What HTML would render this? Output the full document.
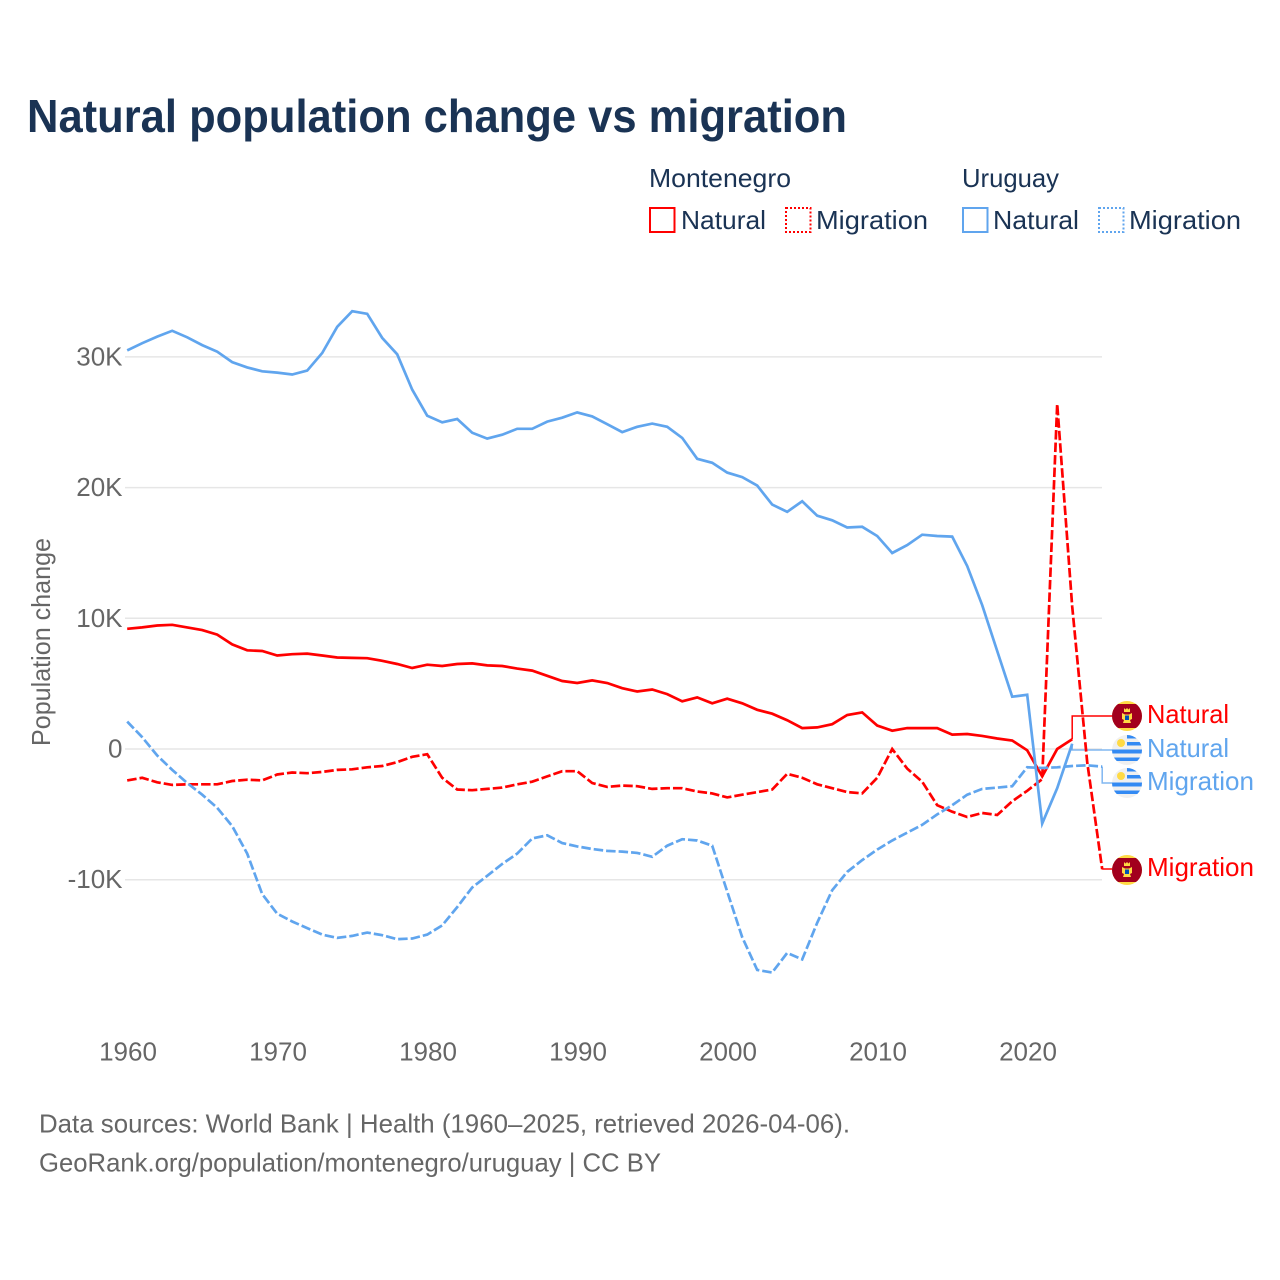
<!DOCTYPE html>
<html lang="en">
<head>
<meta charset="utf-8">
<title>Natural population change vs migration</title>
<style>
html,body{margin:0;padding:0;background:#fff;width:1280px;height:1280px;overflow:hidden}
svg{display:block}
text{font-family:"Liberation Sans",sans-serif}
</style>
</head>
<body>
<svg id="chart" xmlns="http://www.w3.org/2000/svg" width="1280" height="1280" viewBox="0 0 1280 1280">
  <rect x="0" y="0" width="1280" height="1280" fill="#ffffff"/>
  <text x="27" y="132" font-size="46" font-weight="700" fill="#1a3354" textLength="820" lengthAdjust="spacingAndGlyphs">Natural population change vs migration</text>

  <g font-size="26" fill="#1a3354">
    <text x="649" y="187" textLength="142" lengthAdjust="spacingAndGlyphs">Montenegro</text>
    <text x="962" y="187" textLength="97" lengthAdjust="spacingAndGlyphs">Uruguay</text>
    <rect x="650" y="208" width="24.5" height="24" fill="none" stroke="#ff0000" stroke-width="2"/>
    <text x="681" y="229" textLength="85" lengthAdjust="spacingAndGlyphs">Natural</text>
    <rect x="786" y="208" width="24.5" height="24" fill="none" stroke="#ff0000" stroke-width="2" stroke-dasharray="2 2"/>
    <text x="816" y="229" textLength="112" lengthAdjust="spacingAndGlyphs">Migration</text>
    <rect x="963" y="208" width="24.5" height="24" fill="none" stroke="#60a5ee" stroke-width="2"/>
    <text x="993" y="229" textLength="86" lengthAdjust="spacingAndGlyphs">Natural</text>
    <rect x="1099" y="208" width="24.5" height="24" fill="none" stroke="#60a5ee" stroke-width="2" stroke-dasharray="2 2"/>
    <text x="1129" y="229" textLength="112" lengthAdjust="spacingAndGlyphs">Migration</text>
  </g>

  <g id="grid"></g>
  <g id="yTicks" font-size="26" fill="#666666"></g>
  <g id="xTicks" font-size="26" fill="#666666"></g>
  <text transform="translate(50,746) rotate(-90)" font-size="26" fill="#666666" textLength="208" lengthAdjust="spacingAndGlyphs">Population change</text>
  <g id="connectors"></g>
  <g id="series"></g>

  <defs>
    <clipPath id="clip-me-1"><circle cx="1127" cy="716" r="15"/></clipPath>
    <clipPath id="clip-me-2"><circle cx="1127" cy="870" r="15"/></clipPath>
    <clipPath id="clip-uy-1"><circle cx="1127" cy="750" r="15"/></clipPath>
    <clipPath id="clip-uy-2"><circle cx="1127" cy="783" r="15"/></clipPath>
  </defs>

  <g clip-path="url(#clip-me-1)">
    <rect x="1112" y="701" width="30" height="30" fill="#ffda44"/>
    <rect x="1112" y="704" width="30" height="24" fill="#a2001d"/>
    <path d="M1124 708l1.500 1.500 1.500-1.500 1.500 1.500 1.500-1.500v4h-6z" fill="#ffda44"/>
    <path d="M1122 713l3 1.500h4l3-1.500 0 6-2 1 1 3h-8l1-3-2-1z" fill="#ffda44"/>
    <rect x="1125" y="715.500" width="4" height="4.500" fill="#0052b4"/>
  </g>
  <g clip-path="url(#clip-me-2)">
    <rect x="1112" y="855" width="30" height="30" fill="#ffda44"/>
    <rect x="1112" y="858" width="30" height="24" fill="#a2001d"/>
    <path d="M1124 862l1.500 1.500 1.500-1.500 1.500 1.500 1.500-1.500v4h-6z" fill="#ffda44"/>
    <path d="M1122 867l3 1.500h4l3-1.500 0 6-2 1 1 3h-8l1-3-2-1z" fill="#ffda44"/>
    <rect x="1125" y="869.500" width="4" height="4.500" fill="#0052b4"/>
  </g>
  <g clip-path="url(#clip-uy-1)">
    <rect x="1112" y="735" width="30" height="30" fill="#f0f0f0"/>
    <rect x="1127" y="735" width="15" height="3.500" fill="#338af3"/>
    <rect x="1127" y="742" width="15" height="3.500" fill="#338af3"/>
    <rect x="1112" y="749.500" width="30" height="4" fill="#338af3"/>
    <rect x="1112" y="757.500" width="30" height="3.500" fill="#338af3"/>
    <circle cx="1121" cy="743" r="4" fill="#ffda44"/>
  </g>
  <g clip-path="url(#clip-uy-2)">
    <rect x="1112" y="768" width="30" height="30" fill="#f0f0f0"/>
    <rect x="1127" y="768" width="15" height="3.500" fill="#338af3"/>
    <rect x="1127" y="775" width="15" height="3.500" fill="#338af3"/>
    <rect x="1112" y="782.500" width="30" height="4" fill="#338af3"/>
    <rect x="1112" y="790.500" width="30" height="3.500" fill="#338af3"/>
    <circle cx="1121" cy="776" r="4" fill="#ffda44"/>
  </g>

  <g font-size="26">
    <text x="1147" y="723" fill="#ff0000" textLength="82" lengthAdjust="spacingAndGlyphs">Natural</text>
    <text x="1147" y="757" fill="#60a5ee" textLength="82" lengthAdjust="spacingAndGlyphs">Natural</text>
    <text x="1147" y="790" fill="#60a5ee" textLength="107" lengthAdjust="spacingAndGlyphs">Migration</text>
    <text x="1147" y="876" fill="#ff0000" textLength="107" lengthAdjust="spacingAndGlyphs">Migration</text>
  </g>

  <g font-size="26" fill="#666666">
    <text x="39" y="1132.500" textLength="811" lengthAdjust="spacingAndGlyphs">Data sources: World Bank | Health (1960–2025, retrieved 2026-04-06).</text>
    <text x="39" y="1171.500" textLength="622" lengthAdjust="spacingAndGlyphs">GeoRank.org/population/montenegro/uruguay | CC BY</text>
  </g>
</svg>

<script>
const firstYear = 1960;
const xTickYears = [1960, 1970, 1980, 1990, 2000, 2010, 2020];
const yTickValues = [30, 20, 10, 0, -10];
const yTickLabels = ["30K", "20K", "10K", "0", "-10K"];

const montenegroNatural = [
  9.2, 9.3, 9.45, 9.5, 9.3, 9.1, 8.75, 8.0, 7.55, 7.5,
  7.15, 7.25, 7.3, 7.15, 7.0, 6.97, 6.95, 6.75, 6.5, 6.2,
  6.45, 6.35, 6.5, 6.55, 6.4, 6.35, 6.15, 6.0, 5.6, 5.2,
  5.05, 5.25, 5.05, 4.65, 4.4, 4.55, 4.2, 3.65, 3.95, 3.5,
  3.85, 3.5, 3.0, 2.7, 2.2, 1.6, 1.65, 1.9, 2.6, 2.8,
  1.8, 1.4, 1.6, 1.6, 1.6, 1.1, 1.15, 1.0, 0.8, 0.65,
  -0.1, -2.1, 0.0, 0.75
];
const montenegroMigration = [
  -2.4, -2.2, -2.55, -2.75, -2.7, -2.7, -2.7, -2.45, -2.35, -2.4,
  -1.95, -1.8, -1.85, -1.75, -1.6, -1.55, -1.4, -1.3, -1.0, -0.6,
  -0.4, -2.2, -3.1, -3.15, -3.05, -2.95, -2.7, -2.5, -2.1, -1.7,
  -1.7, -2.6, -2.9, -2.8, -2.85, -3.05, -3.0, -3.0, -3.25, -3.4,
  -3.7, -3.5, -3.3, -3.1, -1.9, -2.2, -2.7, -3.0, -3.3, -3.4,
  -2.2, 0.0, -1.5, -2.5, -4.3, -4.8, -5.2, -4.9, -5.05, -4.0,
  -3.2, -2.3, 26.4, 10.9, -1.0, -9.2
];
const uruguayNatural = [
  30.5, 31.05, 31.55, 32.0, 31.5, 30.9, 30.4, 29.6, 29.2, 28.9,
  28.8, 28.65, 28.95, 30.3, 32.3, 33.5, 33.3, 31.45, 30.2, 27.5,
  25.5, 25.0, 25.25, 24.2, 23.75, 24.05, 24.5, 24.5, 25.05, 25.35,
  25.75, 25.45, 24.85, 24.25, 24.65, 24.9, 24.65, 23.8, 22.2, 21.9,
  21.15, 20.8, 20.15, 18.7, 18.15, 18.95, 17.85, 17.5, 16.95, 17.0,
  16.3, 15.0, 15.6, 16.4, 16.3, 16.25, 14.0, 11.0, 7.5, 4.0,
  4.15, -5.7, -3.0, 0.4
];
const uruguayMigration = [
  2.1, 0.9, -0.5, -1.6, -2.6, -3.5, -4.5, -5.9, -8.0, -11.1,
  -12.6, -13.2, -13.7, -14.2, -14.45, -14.3, -14.05, -14.25, -14.55, -14.5,
  -14.2, -13.5, -12.1, -10.6, -9.7, -8.8, -8.0, -6.85, -6.6, -7.2,
  -7.45, -7.65, -7.8, -7.85, -7.95, -8.25, -7.4, -6.9, -7.0, -7.4,
  -10.9, -14.4, -16.9, -17.1, -15.6, -16.1, -13.3, -10.8, -9.4, -8.5,
  -7.7, -7.0, -6.4, -5.8, -5.0, -4.3, -3.5, -3.05, -2.95, -2.85,
  -1.4, -1.45, -1.4, -1.3, -1.25, -1.35
];

const SVG_NS = "http://www.w3.org/2000/svg";
function xScale(year) { return 127.2 + (year - 1960) * 15; }
function yScale(k) { return 749 - k * 13.07; }
function make(tag, attrs, parent) {
  const el = document.createElementNS(SVG_NS, tag);
  Object.keys(attrs).forEach(function (k) { el.setAttribute(k, attrs[k]); });
  parent.appendChild(el);
  return el;
}
function linePath(values) {
  return values.map(function (v, i) {
    return (i ? "L" : "M") + xScale(firstYear + i).toFixed(1) + " " + yScale(v).toFixed(1);
  }).join(" ");
}

const gridGroup = document.getElementById("grid");
const yTickGroup = document.getElementById("yTicks");
const xTickGroup = document.getElementById("xTicks");
const seriesGroup = document.getElementById("series");
const connectorGroup = document.getElementById("connectors");

yTickValues.forEach(function (v, i) {
  const line = make("line", { x1: 125, x2: 1102, y1: yScale(v), y2: yScale(v), stroke: "#e6e6e6", "stroke-width": 1.5 }, gridGroup);
  
  
  const label = make("text", { x: 122.5, y: yScale(v) + 8.5, "text-anchor": "end" }, yTickGroup);
  
  
  label.textContent = yTickLabels[i];
});

xTickYears.forEach(function (year) {
  const label = make("text", { x: xScale(year) + 0.8, y: 1060.5, "text-anchor": "middle" }, xTickGroup);
  
  
  label.textContent = String(year);
});

function connector(values, labelY, color, opacity) {
  const ex = xScale(firstYear + values.length - 1);
  const ey = yScale(values[values.length - 1]);
  const el = make("path", {
    d: "M" + ex + " " + ey + " V" + labelY + " H1113",
    fill: "none", stroke: color, "stroke-width": 1.5, "stroke-opacity": opacity
  }, connectorGroup);
  
  
}
connector(montenegroNatural, 716, "#ff0000", 1);
connector(montenegroMigration, 869, "#ff0000", 1);
connector(uruguayNatural, 750, "#60a5ee", 0.8);
connector(uruguayMigration, 783, "#60a5ee", 0.8);

const lineMN = make("path", { d: linePath(montenegroNatural), fill: "none", stroke: "#ff0000", "stroke-width": 2.7 }, seriesGroup);



const lineMM = make("path", { d: linePath(montenegroMigration), fill: "none", stroke: "#ff0000", "stroke-width": 2.7, "stroke-dasharray": "9.5 3" }, seriesGroup);



const lineUN = make("path", { d: linePath(uruguayNatural), fill: "none", stroke: "#60a5ee", "stroke-width": 2.7 }, seriesGroup);



const lineUM = make("path", { d: linePath(uruguayMigration), fill: "none", stroke: "#60a5ee", "stroke-width": 2.7, "stroke-dasharray": "9.5 3" }, seriesGroup);


</script>
</body>
</html>
